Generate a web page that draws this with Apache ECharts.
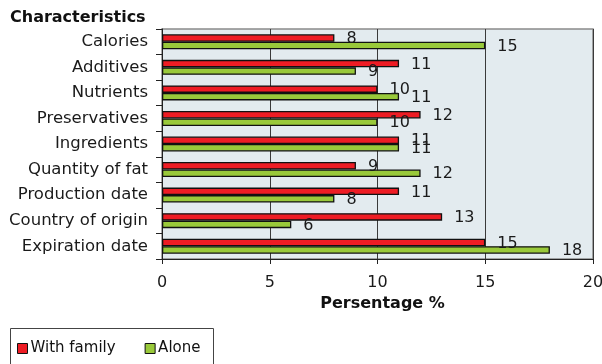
<!DOCTYPE html>
<html>
<head>
<meta charset="utf-8">
<script src="https://cdn.jsdelivr.net/npm/echarts@6/dist/echarts.min.js"></script>
<style>
html,body{margin:0;padding:0;background:#fff;}
#c{width:602px;height:364px;}
</style>
</head>
<body>
<div id="c"></div>
<script>
var categories = ['Calories','Additives','Nutrients','Preservatives','Ingredients','Quantity of fat','Production date','Country of origin','Expiration date'];
var withFamily = [8, 11, 10, 12, 11, 9, 11, 13, 15];
var alone = [15, 9, 11, 10, 11, 12, 8, 6, 18];
var xTicks = [0, 5, 10, 15, 20];

var FONT = 'DejaVu Sans';
var chart = echarts.init(document.getElementById('c'), null, {renderer:'canvas'});
var labelCfg = {show:true, position:'right', distance:12, color:'#1a1a1a', fontFamily:FONT, fontSize:16, offset:[0,1]};
chart.setOption({
  animation:false,
  title:{text:'Characteristics', left:5, top:5, textStyle:{fontFamily:FONT, fontSize:16, fontWeight:'bold', color:'#111'}},
  legend:{
    left:17, top:341, padding:0, itemGap:29, itemWidth:10, itemHeight:10,
    icon:'rect',
    itemStyle:{borderColor:'#111', borderWidth:1},
    textStyle:{fontFamily:FONT, fontSize:15, color:'#111', padding:[0,0,0,-2]},
    data:['With family','Alone']
  },
  grid:{left:162, right:9, top:29, bottom:105, outerBoundsMode:'none', containLabel:false, show:true, backgroundColor:'#e3ebef', borderColor:'#8a8a8a', borderWidth:1.5},
  xAxis:{
    type:'value', min:xTicks[0], max:xTicks[xTicks.length-1], interval:5,
    name:'Persentage %', nameLocation:'middle', nameGap:37,
    nameTextStyle:{fontFamily:FONT, fontSize:16, fontWeight:'bold', color:'#111', padding:[0,0,0,10]},
    axisLine:{show:true, lineStyle:{color:'#222', width:1}},
    axisTick:{show:true, length:5, lineStyle:{color:'#222'}},
    axisLabel:{margin:16, fontFamily:FONT, fontSize:16, color:'#1a1a1a'},
    splitLine:{show:true, lineStyle:{color:'#3a3a3a', width:1}}
  },
  yAxis:{
    type:'category', inverse:true, data:categories,
    axisLine:{show:true, lineStyle:{color:'#222', width:1}},
    axisTick:{show:true, length:6, lineStyle:{color:'#222'}},
    axisLabel:{margin:14, fontFamily:FONT, fontSize:16.5, color:'#1a1a1a', padding:[3,0,0,0]},
    splitLine:{show:false}
  },
  series:[
    {name:'With family', type:'bar', data:withFamily, barWidth:7.5, barGap:'0%',
     itemStyle:{color:'#ee1c24', borderColor:'#111', borderWidth:1.3}, label:labelCfg},
    {name:'Alone', type:'bar', data:alone, barWidth:7.5, barGap:'0%',
     itemStyle:{color:'#99c93a', borderColor:'#111', borderWidth:1.3}, label:labelCfg}
  ],
  graphic:[
    {type:'rect', silent:true, z:-1, shape:{x:10.5, y:328.5, width:203, height:60}, style:{fill:'#fff', stroke:'#444', lineWidth:1}}
  ]
});
</script>
</body>
</html>
